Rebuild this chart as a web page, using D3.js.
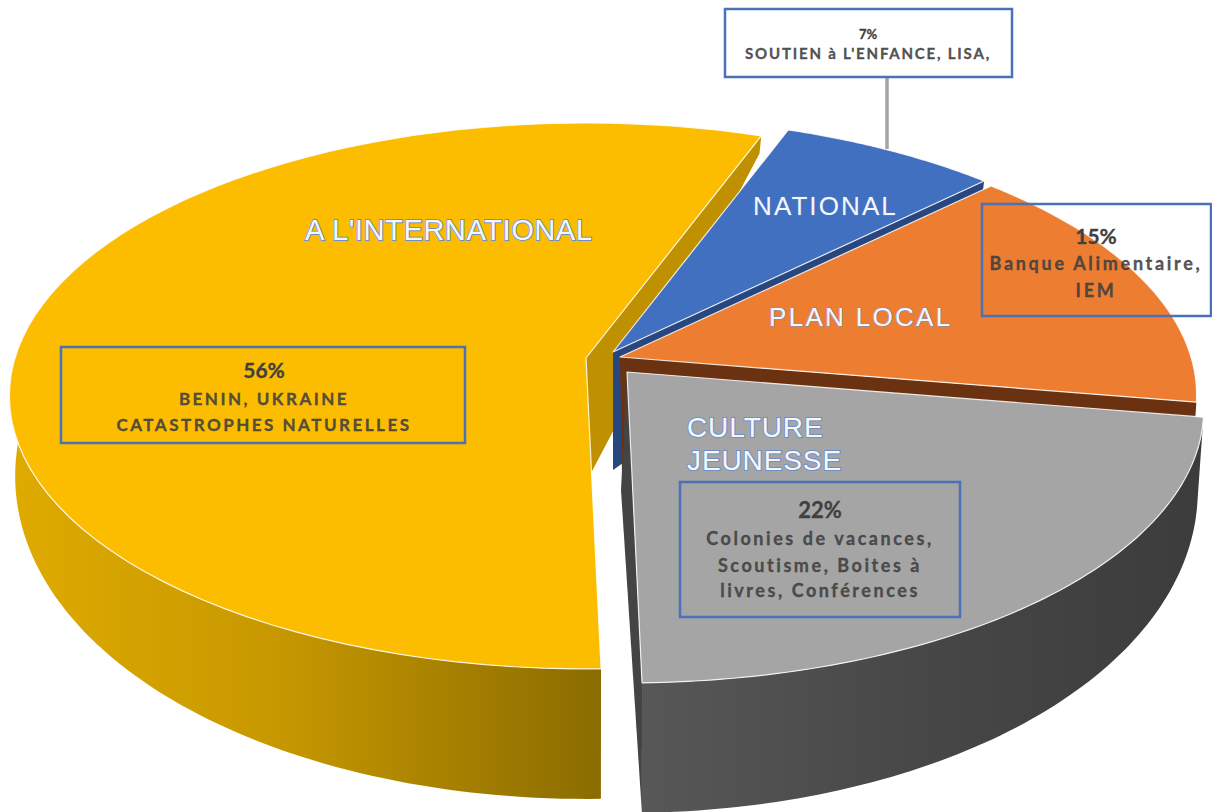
<!DOCTYPE html>
<html>
<head>
<meta charset="utf-8">
<script src="https://cdn.jsdelivr.net/npm/d3@7"></script>
<style>
html, body { margin: 0; padding: 0; background: #fff; }
svg { display: block; }
.name { font-family: "Liberation Sans", Arial, sans-serif; fill: #f4f7fc; stroke: #6f8fc8; paint-order: stroke; }
.pct { font-family: Lato, sans-serif; font-weight: 700; fill: #404040; stroke: #404040; stroke-width: 0.3; text-anchor: middle; }
.det { font-family: Lato, sans-serif; font-weight: 700; fill: #404040; stroke: #404040; stroke-width: 0.3; fill-opacity: 0.9; text-anchor: middle; }
</style>
</head>
<body>
<svg id="chart" width="1212" height="812"></svg>
<script>
const categories = ['A L\'INTERNATIONAL', 'NATIONAL', 'PLAN LOCAL', 'CULTURE JEUNESSE'];
const values = [56, 7, 15, 22];
const percents = ['56%', '7%', '15%', '22%'];
const details = [
	['BENIN, UKRAINE', 'CATASTROPHES NATURELLES'],
	['SOUTIEN à L\'ENFANCE, LISA,'],
	['Banque Alimentaire,', 'IEM'],
	['Colonies de vacances,', 'Scoutisme, Boites à', 'livres, Conférences']
];
const faceColors = ['#fcbc00', '#4270c0', '#ed7d31', '#a5a5a5'];
const cutColors = ['#bf9000', '#28477f', '#6a3210', '#444444'];

// where each exploded slice has its tip
const tips = [[586, 358], [613, 352], [620, 357], [627, 372]];
const lowerTips = [[590, 475], [613, 470], [622, 475], [621, 490]];
const lowerScale = [0.99, 0.99, 0.99, 0.99];

// pie seen in perspective
const rx = 571, ry = 267.7, persp = 0.139;
function upper (i, a) {
	const d = 1 + persp * Math.cos(a);
	return [tips[i][0] + rx * Math.sin(a) / d, tips[i][1] - ry * Math.cos(a) / d];
}
function lower (i, a) {
	const p = upper(i, a);
	return [tips[i][0] + (p[0] - tips[i][0]) * lowerScale[i], p[1] + 72 - 58 * Math.cos(a)];
}
function rim (fn, i, a0, a1) {
	const n = 80;
	return d3.range(n + 1).map((k) => fn(i, a0 + (a1 - a0) * k / n));
}

const rad = Math.PI / 180;
const arcs = d3.pie().sort(null).value((d) => d).startAngle(-181.3 * rad).endAngle(178.7 * rad)(values);
const line = d3.line();
const svg = d3.select('#chart');

const defs = svg.append('defs');
function gradient (id, x1, x2, stops) {
	const g = defs.append('linearGradient').attr('id', id).attr('gradientUnits', 'userSpaceOnUse')
		.attr('x1', x1).attr('x2', x2).attr('y1', 0).attr('y2', 0);
	stops.forEach((s) => g.append('stop').attr('offset', s[0]).attr('stop-color', s[1]));
}
gradient('wallYellow', 10, 602, [[0, '#dfab00'], [0.45, '#c79800'], [1, '#8a6c00']]);
gradient('wallGrey', 645, 1200, [[0, '#575757'], [0.5, '#474747'], [1, '#3c3c3c']]);

// cut walls, back to front, the faces hide most of them
svg.append('g').selectAll('path').data(arcs).enter().append('path')
	.attr('fill', (d, i) => cutColors[i])
	.attr('d', (d, i) => line([tips[i], upper(i, d.endAngle), lower(i, d.endAngle), lowerTips[i]]) + 'Z');

// outer walls of the two front slices
function outerWall (i, a0, a1, fill) {
	const t = rim(upper, i, a0, a1);
	const b = rim(lower, i, a0, a1).reverse();
	svg.append('path').attr('fill', fill).attr('d', line(t.concat(b)) + 'Z');
}
outerWall(0, arcs[0].startAngle, -90 * rad, 'url(#wallYellow)');
outerWall(3, arcs[3].startAngle, arcs[3].endAngle, 'url(#wallGrey)');

// top faces
svg.append('g').selectAll('path').data(arcs).enter().append('path')
	.attr('fill', (d, i) => faceColors[i])
	.attr('stroke', '#fff')
	.attr('stroke-opacity', 0.85)
	.attr('stroke-width', 1.2)
	.attr('stroke-linejoin', 'round')
	.attr('d', (d, i) => line([tips[i]].concat(rim(upper, i, d.startAngle, d.endAngle))) + 'Z');

// leader line of the 7% box
svg.append('line').attr('x1', 887).attr('x2', 887).attr('y1', 77).attr('y2', 149)
	.attr('stroke', '#a5a5a5').attr('stroke-width', 3.5);

// callout boxes, same order as categories
const boxes = [[61, 347, 404, 96], [725, 9, 287, 68], [982, 204, 229, 112], [680, 482, 280, 135]];
const textX = [264, 868, 1096, 820];
const pctY = [378, 39, 244, 518];
const pctSize = [21, 13, 21, 22];
const detY = [[405, 431], [59], [270, 297], [545, 572, 597]];
const detSpacing = [2.5, 1.8, 2.7, 2.55];
const detSize = [17, 15, 18, 18];

const callouts = svg.append('g').selectAll('g').data(percents).enter().append('g');
callouts.append('rect')
	.attr('x', (d, i) => boxes[i][0]).attr('y', (d, i) => boxes[i][1])
	.attr('width', (d, i) => boxes[i][2]).attr('height', (d, i) => boxes[i][3])
	.attr('fill', (d, i) => (i === 1 ? '#fff' : 'none'))
	.attr('stroke', '#4a72b8').attr('stroke-width', 2.5);
callouts.append('text').attr('class', 'pct')
	.attr('x', (d, i) => textX[i]).attr('y', (d, i) => pctY[i])
	.attr('font-size', (d, i) => pctSize[i])
	.text((d) => d);
callouts.each(function (d, i) {
	d3.select(this).selectAll('text.det').data(details[i]).enter().append('text').attr('class', 'det')
		.attr('x', textX[i]).attr('y', (t, j) => detY[i][j])
		.attr('font-size', detSize[i])
		.attr('letter-spacing', detSpacing[i])
		.text((t) => t);
});

// slice names
const nameLines = [[categories[0]], [categories[1]], [categories[2]], categories[3].split(' ')];
const nameX = [305, 753, 769, 687];
const nameY = [[240], [215], [326], [437, 470]];
const nameSize = [29, 26, 26, 28];
const nameSpacing = [0.6, 2.1, 2.3, 0.9];
const nameStroke = [1.8, 0.4, 1, 2];
nameLines.forEach((lines, i) => {
	svg.append('g').selectAll('text').data(lines).enter().append('text').attr('class', 'name')
		.attr('x', nameX[i]).attr('y', (t, j) => nameY[i][j])
		.attr('font-size', nameSize[i])
		.attr('letter-spacing', nameSpacing[i])
		.attr('stroke-width', nameStroke[i])
		.text((t) => t);
});
</script>
</body>
</html>
